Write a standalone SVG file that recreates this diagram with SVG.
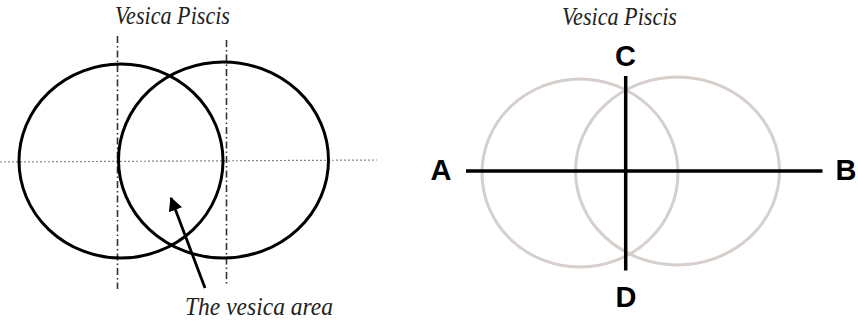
<svg xmlns="http://www.w3.org/2000/svg" width="858" height="322" viewBox="0 0 858 322">
<defs>
<style>
.title{font-family:"Liberation Serif","Times New Roman",serif;font-style:italic;font-size:25px;fill:#222;}
.lbl{font-family:"Liberation Sans",Arial,sans-serif;font-weight:bold;font-size:29px;fill:#000;text-anchor:middle;}
.blk{fill:none;stroke:#000;stroke-width:3;}
.gry{fill:none;stroke:#d6cfcb;stroke-width:3;}
.axis{stroke:#000;stroke-width:3.5;}
.dashdot{stroke:#333;stroke-width:1.6;stroke-dasharray:7 3 1.5 3;}
.dot{stroke:#888;stroke-width:1.2;stroke-dasharray:2 2;}
</style>
<marker id="ah" viewBox="0 0 10 10" refX="9" refY="5" markerWidth="5" markerHeight="5" orient="auto" markerUnits="strokeWidth">
<path d="M0,0 L10,5 L0,10 z" fill="#000"/>
</marker>
</defs>
<rect width="858" height="322" fill="#fff"/>
<g id="left">
<text class="title" x="115" y="24" textLength="115" lengthAdjust="spacingAndGlyphs">Vesica Piscis</text>
<g id="guides">
<line class="dashdot" x1="117.5" y1="36" x2="117.5" y2="289"/>
<line class="dashdot" x1="226.5" y1="40" x2="226.5" y2="286"/>
<line class="dot" x1="0" y1="162" x2="377" y2="160"/>
</g>
<g id="circle-left"><ellipse class="blk" cx="121" cy="161" rx="102" ry="97"/></g>
<g id="circle-right"><ellipse class="blk" cx="223.5" cy="160" rx="105" ry="98"/></g>
<g id="connectors"><line x1="205" y1="288" x2="171" y2="198" stroke="#000" stroke-width="2.8" marker-end="url(#ah)"/></g>
<g id="vesica-label"><text class="title" x="185" y="315" textLength="148" lengthAdjust="spacingAndGlyphs">The vesica area</text></g>
</g>
<g id="right">
<text class="title" x="562" y="25" textLength="115" lengthAdjust="spacingAndGlyphs">Vesica Piscis</text>
<g id="circle-a"><ellipse class="gry" cx="580" cy="173" rx="98" ry="94"/></g>
<g id="circle-b"><ellipse class="gry" cx="677.5" cy="171" rx="102" ry="94"/></g>
<g id="axes">
<line class="axis" x1="466" y1="171" x2="822.5" y2="171"/>
<line class="axis" x1="625.7" y1="76" x2="625.7" y2="270.5"/>
</g>
<g id="label-a"><text class="lbl" x="441" y="180">A</text></g>
<g id="label-b"><text class="lbl" x="846" y="180">B</text></g>
<g id="label-c"><text class="lbl" x="625.5" y="66">C</text></g>
<g id="label-d"><text class="lbl" x="626" y="307">D</text></g>
</g>
</svg>
